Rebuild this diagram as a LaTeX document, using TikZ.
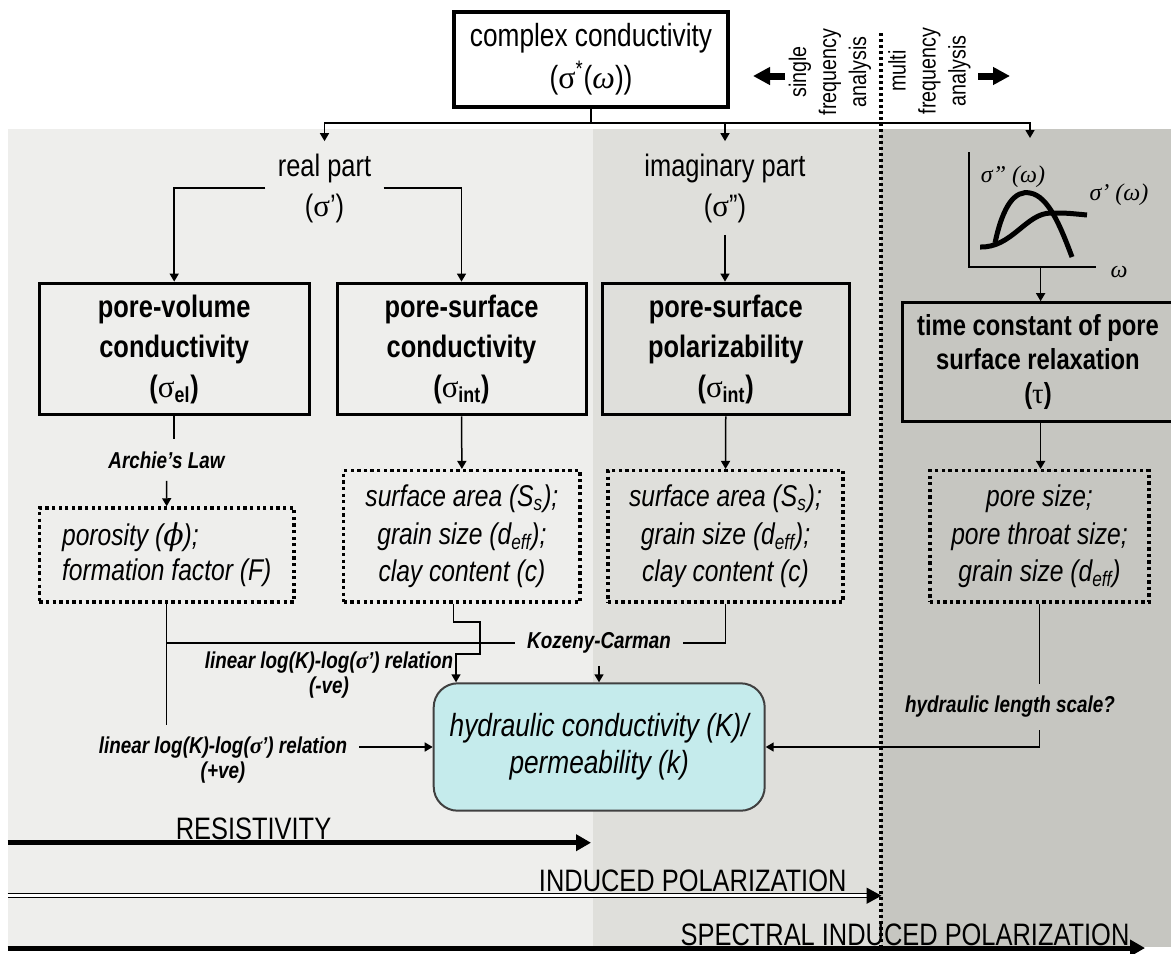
\documentclass[tikz,border=0pt]{standalone}
\usepackage{fontspec}
\setmainfont[FakeStretch=0.82]{Liberation Sans}
\newfontfamily\grk{Liberation Serif}
\newfontfamily\phifont{DejaVu Serif}
\usetikzlibrary{arrows.meta,positioning}

\definecolor{bgone}{HTML}{EEEEEC}
\definecolor{bgtwo}{HTML}{DFDFDB}
\definecolor{bgthree}{HTML}{C6C6C1}
\definecolor{hydfill}{HTML}{C5EBEC}

\newcommand{\sig}{{\grk\mdseries\upshape σ}}
\newcommand{\omg}{{\grk\mdseries\itshape ω}}
\newcommand{\lowr}[1]{\textsubscript{#1}}

\tikzset{
  conn/.style={line width=0.75pt,-{Triangle[length=4pt,width=4.5pt]}},
  plain/.style={line width=0.75pt},
  mainbox/.style={draw,line width=1.5pt,align=center,font=\fontsize{15.5}{20}\selectfont\bfseries,minimum height=65.9pt,inner sep=2pt},
  dotbox/.style={draw,line width=1.75pt,dash pattern=on 1.65pt off 1.65pt,align=center,font=\fontsize{15}{18.75}\selectfont\itshape,minimum height=65.7pt,inner sep=2pt},
  parttxt/.style={align=center,font=\fontsize{15.5}{20}\selectfont,inner sep=6pt},
  lawtxt/.style={align=center,font=\fontsize{11.5}{12.5}\selectfont\bfseries\itshape,inner sep=6pt},
  freqtxt/.style={rotate=90,align=center,font=\fontsize{12}{15}\selectfont},
  graphtxt/.style={font=\fontsize{12}{12}\selectfont\grk\itshape,inner sep=0pt},
  methodtxt/.style={font=\fontsize{15.5}{18}\selectfont,inner sep=0pt,anchor=base},
  fatarrow/.style={line width=2.5pt,-{Triangle[length=7.5pt,width=8pt]}},
  freqarrow/.style={line width=3.5pt,-{Triangle[length=8.5pt,width=8.5pt]}},
}

\begin{document}
\begin{tikzpicture}[x=0.5pt,y=-0.5pt]
\useasboundingbox (0,0) rectangle (1171,953);

% background bands
\fill[bgone] (7.7,129.3) rectangle (593,947);
\fill[bgtwo] (593,129.3) rectangle (881,947);
\fill[bgthree] (881,129.3) rectangle (1171,947);
\draw[line width=2.2pt,dash pattern=on 1.5pt off 1.5pt] (881,33) -- (881,950);

% top
\node[mainbox,line width=2pt,font=\fontsize{16}{21}\selectfont,minimum width=137pt,minimum height=47.5pt] (ccond) at (591,59.5) {complex conductivity\\(\sig\textsuperscript{*}(\omg))};
\node[freqtxt] (sfa) at (830,72) {single\\frequency\\analysis};
\node[freqtxt] (mfa) at (929.5,71) {multi\\frequency\\analysis};
\coordinate (sfaa) at (785,76);
\coordinate (sfab) at (753,76);
\coordinate (mfaa) at (978,76);
\coordinate (mfab) at (1010,76);
\draw[freqarrow] (sfaa) -- (sfab);
\draw[freqarrow] (mfaa) -- (mfab);

% real and imaginary part
\node[parttxt] (realp) at (324.5,188) {real part\\(\sig’)};
\node[parttxt] (imagp) at (725,188) {imaginary part\\(\sig”)};

% sketch of the spectra
\draw[line width=1pt] (969,152) -- (969,267) -- (1096,267);
\draw[line width=2.5pt] (995,243) .. controls (1003,205) and (1015,190) .. (1030,193) .. controls (1048,196) and (1060,225) .. (1072,257);
\draw[line width=2.5pt] (980,247) .. controls (1012,248) and (1026,213) .. (1051,213) .. controls (1066,213) .. (1087,215);
\node[graphtxt] (sigpp) at (1013,177) {σ” (ω)};
\node[graphtxt] (sigp) at (1119,195) {σ’ (ω)};
\node[graphtxt] (omax) at (1119,272) {ω};
\coordinate (gtop) at (1030,138);
\coordinate (gbot) at (1040.6,267);

% boxes
\node[mainbox,minimum width=134.8pt] (pvol) at (174.2,349) {pore-volume\\conductivity\\(\sig\lowr{el})};
\node[mainbox,minimum width=124.5pt] (psurf) at (461.5,349) {pore-surface\\conductivity\\(\sig\lowr{int})};
\node[mainbox,minimum width=123.75pt] (ppol) at (725.75,349) {pore-surface\\polarizability\\(\sig\lowr{int})};
\node[mainbox,minimum width=136pt,minimum height=59.5pt,font=\fontsize{14.5}{17}\selectfont\bfseries] (tconst) at (1038,362.2) {time constant of pore\\surface relaxation\\({\grk\mdseries τ})};

% dotted boxes
\node[dotbox,minimum width=127.3pt,minimum height=47pt,align=left,font=\fontsize{15}{17.5}\selectfont\itshape] (dpor) at (166.7,555) {porosity ({\phifont\itshape ϕ});\\formation factor (F)};
\node[dotbox,minimum width=118.2pt] (dsurf1) at (461.9,536.4) {surface area (S\lowr{s});\\grain size (d\lowr{eff});\\clay content (c)};
\node[dotbox,minimum width=117.5pt] (dsurf2) at (725.5,536.4) {surface area (S\lowr{s});\\grain size (d\lowr{eff});\\clay content (c)};
\node[dotbox,minimum width=109.5pt] (dpore) at (1039.5,536.4) {pore size;\\pore throat size;\\grain size (d\lowr{eff})};

% hydraulic
\node[draw=black!75,line width=1pt,fill=hydfill,rounded corners=12pt,minimum width=165.5pt,minimum height=63.7pt,align=center,font=\fontsize{16}{18.5}\selectfont\itshape] (hydro) at (599.2,747) {hydraulic conductivity (K)/\\permeability (k)};

% relations
\node[lawtxt] (archie) at (166.5,460) {Archie’s Law};
\node[lawtxt] (kozeny) at (599,643) {Kozeny-Carman};
\node[lawtxt] (neglbl) at (329,675.5) {linear log(K)-log({\grk\itshape σ}’) relation\\(-ve)};
\node[lawtxt] (poslbl) at (223,760.5) {linear log(K)-log({\grk\itshape σ}’) relation\\(+ve)};
\node[lawtxt] (hlen) at (1010,707) {hydraulic length scale?};

% connectors
\coordinate (split) at (591,123);
\draw[plain] (ccond.south) -- (split);
\draw[conn] (split) -| (realp.north);
\draw[conn] (split) -| (imagp.north);
\draw[conn] (split) -| (gtop);
\draw[conn] (realp.west) -| (pvol.north);
\draw[conn] (realp.east) -| (psurf.north);
\draw[conn] (imagp.south) -- (imagp.south |- ppol.north);
\draw[conn] (gbot) -- (gbot |- tconst.north);
\draw[plain] (pvol.south) -- (pvol.south |- archie.north);
\draw[conn] (archie.south) -- (dpor.north);
\draw[conn] (psurf.south) -- (dsurf1.north);
\draw[conn] (ppol.south) -- (dsurf2.north);
\draw[conn] (tconst.south -| gbot) -- (dpore.north -| gbot);
\draw[plain] (dpor.south) -- (dpor.south |- poslbl.north);
\draw[plain] (dpor.south |- kozeny.west) -- (kozeny.west);
\draw[conn] (poslbl.east |- hydro.west) -- (hydro.west);
\draw[plain] (dsurf2.south) |- (kozeny.east);
\draw[conn] (kozeny.south) -- (hydro.north -| kozeny.south);
\draw[conn] ([xshift=-4.3pt]dsurf1.south) -- ++(0,18) -- ++(26.7,0) -- ++(0,32) -- ++(-24,0) coordinate (jog) -- (jog |- hydro.north);
\draw[plain] (dpore.south) -- (dpore.south |- hlen.north);
\draw[conn] (dpore.south |- hlen.south) |- (hydro.east);

% methods
\coordinate (rs) at (7.7,842.7);
\coordinate (re) at (591,842.7);
\draw[fatarrow] (rs) -- (re);
\node[methodtxt] (resist) at (253.5,839) {RESISTIVITY};
\coordinate (is) at (7.7,895.7);
\coordinate (ie) at (881.5,895.7);
\draw[line width=0.75pt,double=white,double distance=1.25pt] (is) -- ([xshift=-6pt]ie);
\draw[line width=0.75pt,-{Triangle[length=7.5pt,width=8pt]}] ([xshift=-7pt]ie) -- (ie);
\node[methodtxt] (indpol) at (692.7,891.5) {INDUCED POLARIZATION};
\coordinate (ss) at (7.7,948);
\coordinate (se) at (1145,948);
\draw[fatarrow] (ss) -- (se);
\node[methodtxt] (sip) at (905,945) {SPECTRAL INDUCED POLARIZATION};
\end{tikzpicture}
\end{document}
